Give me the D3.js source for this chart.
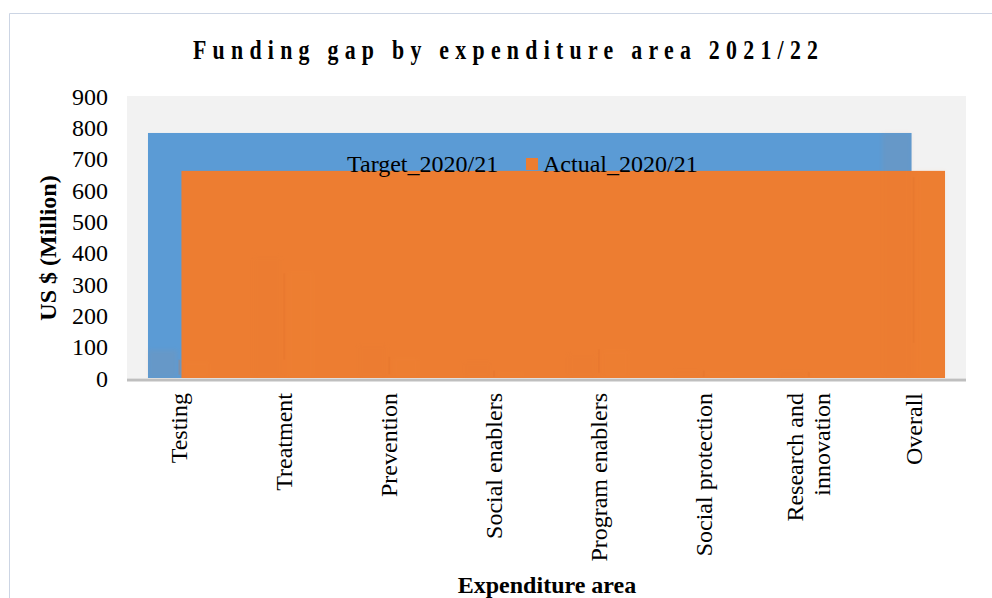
<!DOCTYPE html>
<html>
<head>
<meta charset="utf-8">
<script src="https://cdn.jsdelivr.net/npm/d3@7"></script>
<style>
  html, body { margin: 0; padding: 0; background: #ffffff; }
  svg { display: block; }
  text { font-family: "Liberation Serif", "Times New Roman", serif; fill: #000; }
</style>
</head>
<body>
<svg id="chart" width="992" height="598"></svg>
<script>
// Expenditure areas and funding figures (US $ million)
const categories = ["Testing", "Treatment", "Prevention", "Social enablers",
  "Program enablers", "Social protection", "Research and innovation", "Overall"];
const seriesNames = ["Target_2020/21", "Actual_2020/21"];
const target2020 = [90, 390, 110, 55, 80, 30, 27, 782];
const actual2020 = [60, 345, 70, 25, 95, 25, 20, 661];
const yTicks = [0, 100, 200, 300, 400, 500, 600, 700, 800, 900];

const colors = { "Target_2020/21": "#5b9bd5", "Actual_2020/21": "#ed7d31" };

const svg = d3.select("#chart");
const W = 992, H = 598;
const plot = { left: 127, right: 966, top: 96, bottom: 378 };

// outer chart frame
svg.append("path")
  .attr("d", `M9.5,${H} V13.5 H${W}`)
  .attr("fill", "none").attr("stroke", "#ccd5e4").attr("stroke-width", 1);

const x = d3.scaleBand().domain(categories).range([plot.left, plot.right]);
const x1 = d3.scaleBand().domain(seriesNames)
  .range([x.bandwidth() * 0.2, x.bandwidth() * 0.8]).paddingInner(0.12);
const y = d3.scaleLinear().domain([0, 900]).range([plot.bottom, plot.top]);

// plot background
svg.append("rect")
  .attr("x", plot.left).attr("y", plot.top)
  .attr("width", plot.right - plot.left).attr("height", plot.bottom - plot.top)
  .attr("fill", "#f2f2f2");

// series keys stretched across the category range, sized by the overall figures
const last = categories.length - 1;
const overall = { "Target_2020/21": target2020[last], "Actual_2020/21": actual2020[last] };
seriesNames.forEach(s => {
  const x0 = x(categories[0]) + x1(s);
  const xEnd = x(categories[last]) + x1(s) + x1.bandwidth();
  svg.append("rect")
    .attr("x", x0).attr("y", y(overall[s]))
    .attr("width", xEnd - x0).attr("height", y(0) - y(overall[s]))
    .attr("fill", colors[s]);
});

// per-area bars, drawn faintly
const rows = categories.map((c, i) => ({ c, vals: [target2020[i], actual2020[i]] }));
const g = svg.append("g");
rows.forEach(r => {
  seriesNames.forEach((s, j) => {
    g.append("rect")
      .attr("x", x(r.c) + x1(s)).attr("y", y(r.vals[j]))
      .attr("width", x1.bandwidth()).attr("height", y(0) - y(r.vals[j]))
      .attr("fill", j === 0 ? "#e37a38" : "#f08a3c").attr("opacity", 0.08)
      .attr("filter", "blur(2px)");
  });
});
// faint whiskers on the actual bars
rows.forEach(r => {
  const cx = x(r.c) + x1(seriesNames[1]) - 2;
  g.append("line")
    .attr("x1", cx).attr("x2", cx)
    .attr("y1", y(r.vals[1] * 0.97)).attr("y2", y(r.vals[1] * 0.17))
    .attr("stroke", "#e0702a").attr("stroke-width", 2).attr("opacity", 0.25);
});

// x axis line
svg.append("line")
  .attr("x1", plot.left).attr("x2", plot.right)
  .attr("y1", plot.bottom + 2).attr("y2", plot.bottom + 2)
  .attr("stroke", "#bfbfbf").attr("stroke-width", 3);

// y axis labels
const yAxis = d3.axisLeft(y).tickValues(yTicks).tickSize(0).tickPadding(0);
const ya = svg.append("g").attr("transform", `translate(108,0)`).call(yAxis);
ya.select(".domain").remove();
ya.selectAll("text")
  .style("font-family", '"Liberation Serif", serif')
  .style("font-size", "24px").attr("fill", "#000").attr("dy", "0.34em");

// x axis labels, rotated
const xa = svg.append("g");
categories.forEach(c => {
  const lines = c === "Research and innovation" ? ["Research and", "innovation"] : [c];
  const cx = x(c) + x.bandwidth() / 2;
  const t = xa.append("text")
    .attr("transform", `translate(${cx},393) rotate(-90)`)
    .attr("text-anchor", "end")
    .style("font-size", "24px");
  lines.forEach((ln, k) => {
    t.append("tspan").attr("x", 0)
      .attr("y", (k - (lines.length - 1) / 2) * 27 + 8)
      .text(ln);
  });
});

// legend
const legend = svg.append("g").attr("transform", "translate(330,164)");
seriesNames.forEach((s, i) => {
  const item = legend.append("g").attr("transform", `translate(${i === 0 ? 0 : 196},0)`);
  item.append("rect").attr("x", 0).attr("y", -6).attr("width", 12).attr("height", 12)
    .attr("fill", colors[s]);
  item.append("text").attr("x", 17).attr("y", 8).style("font-size", "24px").text(s);
});

// title, set in a condensed, widely tracked bold face
svg.append("text")
  .attr("transform", "translate(193,59) scale(0.78,1)")
  .attr("x", 0).attr("y", 0)
  .attr("textLength", 625 / 0.78).attr("lengthAdjust", "spacing")
  .style("font-size", "28px").style("font-weight", "bold")
  .text("Funding gap by expenditure area 2021/22");

// axis titles
svg.append("text")
  .attr("transform", "translate(56,248) rotate(-90)")
  .attr("text-anchor", "middle")
  .style("font-size", "24px").style("font-weight", "bold")
  .text("US $ (Million)");

svg.append("text")
  .attr("x", 547).attr("y", 593).attr("text-anchor", "middle")
  .style("font-size", "24px").style("font-weight", "bold")
  .text("Expenditure area");
</script>
</body>
</html>
